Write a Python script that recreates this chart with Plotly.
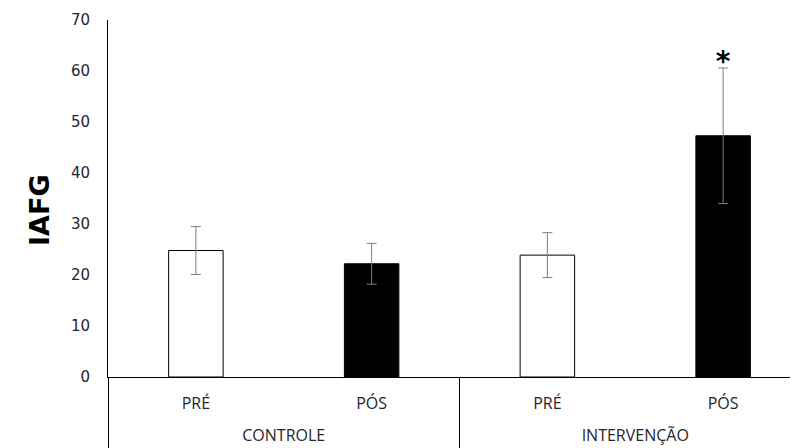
import plotly.graph_objects as go

groups = ["CONTROLE", "CONTROLE", "INTERVENÇÃO", "INTERVENÇÃO"]
phases = ["PRÉ", "PÓS", "PRÉ", "PÓS"]
values = [24.8, 22.2, 23.9, 47.3]
errors = [4.7, 4.0, 4.4, 13.3]
fills = ["white", "black", "white", "black"]
y_ticks = [0, 10, 20, 30, 40, 50, 60, 70]
star_y = [58.6]

# positions along the category axis derived from the lists
pos = list(range(len(phases)))
group_names = list(dict.fromkeys(groups))
group_centers = [sum(p for p, g in zip(pos, groups) if g == n) / groups.count(n) for n in group_names]
group_bounds = [pos[0] - 0.5] + [p + 0.5 for p, g, g2 in zip(pos, groups, groups[1:]) if g != g2] + [pos[-1] + 0.5]

XR = [-0.5, 3.426]
OFF = 8  # page body margin

fig = go.Figure()
fig.add_trace(go.Bar(
    x=pos, y=values,
    marker=dict(color=fills, line=dict(color="black", width=1)),
    width=0.31,
    error_y=dict(type="data", array=errors, visible=True, color="#7f7f7f", thickness=1, width=5),
    showlegend=False, hoverinfo="skip",
))
fig.add_trace(go.Scatter(
    x=[pos[3]], y=star_y, mode="text", text=["<b>*</b>"],
    textposition="top center", textfont=dict(size=28, color="black", family="DejaVu Sans"),
    showlegend=False, hoverinfo="skip",
))
# empty traces so the helper axes are drawn
fig.add_trace(go.Scatter(x=[], y=[], xaxis="x2", showlegend=False))
fig.add_trace(go.Scatter(x=[], y=[], xaxis="x3", showlegend=False))

fig.update_layout(
    width=798 - OFF, height=448 - OFF,
    margin=dict(l=108 - OFF, r=0, t=20 - OFF, b=71, autoexpand=False),
    plot_bgcolor="white", paper_bgcolor="white",
    font=dict(family="Open Sans", size=16, color="#262626"),
    xaxis=dict(
        range=XR, tickvals=pos, ticktext=phases, ticks="", ticklabelstandoff=12,
        showline=True, linecolor="black", linewidth=1,
        showgrid=False, zeroline=False, automargin=False,
        tickfont=dict(family="Open Sans", size=16, color="#262626"),
    ),
    xaxis2=dict(
        overlaying="x", anchor="y", side="bottom", range=XR,
        tickvals=group_centers, ticktext=group_names, ticks="", ticklabelstandoff=47,
        showline=False, showgrid=False, zeroline=False, automargin=False,
        tickfont=dict(family="Open Sans", size=16, color="#262626"),
    ),
    xaxis3=dict(
        overlaying="x", anchor="y", side="bottom", range=XR,
        tickvals=group_bounds, showticklabels=False,
        ticks="outside", ticklen=71, tickwidth=1, tickcolor="black",
        showline=False, showgrid=False, zeroline=False, automargin=False,
    ),
    yaxis=dict(
        range=[0, 70], tickvals=y_ticks, showgrid=False, zeroline=False,
        showline=True, linecolor="black", linewidth=1,
        ticks="", ticklabelstandoff=14, automargin=False,
        tickfont=dict(family="DejaVu Sans", size=15, color="#262626"),
    ),
    annotations=[dict(
        text="<b>IAFG</b>", textangle=-90, xref="paper", yref="paper",
        x=(39 - 108) / 690, y=(377 - 210) / 357, xanchor="center", yanchor="middle",
        showarrow=False, font=dict(family="DejaVu Sans", size=27, color="black"),
    )],
)
fig.write_html("out.html")
